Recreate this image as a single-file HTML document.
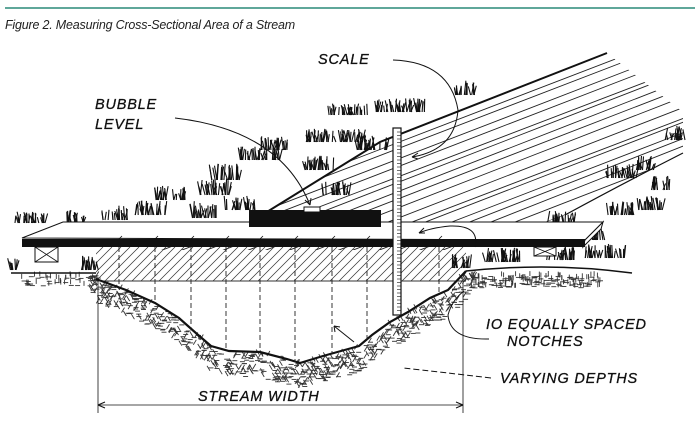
<!DOCTYPE html>
<html><head><meta charset="utf-8"><style>
html,body{margin:0;padding:0;background:#fff;}
svg{display:block}
.t{font-family:"Liberation Sans",sans-serif;font-style:italic;font-size:14.5px;fill:#111;letter-spacing:0.8px;stroke:#111;stroke-width:0.3}
</style></head><body>
<svg id="s" width="700" height="426" viewBox="0 0 700 426" xmlns="http://www.w3.org/2000/svg">
<defs>
<clipPath id="slope"><polygon points="215,244 380,142 607,53 683,112 683,153 565,215 470,250 96,250"/></clipPath>
<clipPath id="water"><rect x="96" y="247" width="370" height="34"/></clipPath>
</defs>
<line x1="5" y1="8" x2="695" y2="8" stroke="#2a8a78" stroke-width="1.5"/>
<text x="5" y="29" style="font-family:'Liberation Sans',sans-serif;font-style:italic;font-size:12.5px;fill:#222;letter-spacing:-0.2px">Figure 2. Measuring Cross-Sectional Area of a Stream</text>
<g id="hatch" stroke="#222" stroke-width="0.9" fill="none" clip-path="url(#slope)"></g>
<path d="M215,244 L380,142 Q500,95 607,53" stroke="#111" stroke-width="2" fill="none"/>
<path d="M565,215 Q620,185 683,153" stroke="#111" stroke-width="1.2" fill="none"/>
<g id="whatch" stroke="#333" stroke-width="0.7" clip-path="url(#water)"></g>
<line x1="96" y1="281" x2="466" y2="281" stroke="#333" stroke-width="1"/>
<g id="soil" stroke="#333" stroke-width="0.9"></g>
<g id="grass" stroke="#111" stroke-width="1.1" fill="none"></g>
<path d="M11,273 L96,273 M466,271 Q550,262 632,273" stroke="#111" stroke-width="1.5" fill="none"/>
<path d="M96,279 L126,290 L155,303 L179,318 L197,334 L211,346 L229,351 L260,352 L287,359 L300,363 L323,356 L341,351 L359,346 L372,335 L390,322 L408,312 L430,298 L448,290 L466,271" stroke="#111" stroke-width="2.2" fill="none"/>
<g id="dash" stroke="#222" stroke-width="0.9" stroke-dasharray="5,3"></g>
<polygon points="22,238 63,222 603,222 585,240" fill="#fff" stroke="#111" stroke-width="1"/>
<polygon points="603,222 601,229 583,247 585,240" fill="#fff" stroke="#111" stroke-width="1"/>
<rect x="22" y="239" width="563" height="8" fill="#111"/>
<rect x="35" y="247" width="23" height="15" fill="#fff" stroke="#111"/>
<path d="M35,247 L58,262 M58,247 L35,262" stroke="#111" stroke-width="0.8"/>
<rect x="534" y="247" width="22" height="9" fill="#fff" stroke="#111"/>
<path d="M534,247 L556,256 M556,247 L534,256" stroke="#111" stroke-width="0.8"/>
<g id="notch" stroke="#111" stroke-width="0.8"></g>
<rect x="249" y="210" width="132" height="17" fill="#111"/>
<rect x="304" y="207" width="16" height="5" fill="#fff" stroke="#111" stroke-width="1"/>
<rect x="393" y="128" width="8" height="187" fill="#fff" stroke="#111" stroke-width="1.2"/>
<g id="ticks" stroke="#111" stroke-width="0.6"></g>
<g class="t">
<text x="318" y="64">SCALE</text>
<text x="95" y="109">BUBBLE</text>
<text x="95" y="129">LEVEL</text>
<text x="486" y="329">IO EQUALLY  SPACED</text>
<text x="507" y="346">NOTCHES</text>
<text x="500" y="383">VARYING  DEPTHS</text>
<text x="198" y="401">STREAM WIDTH</text>
</g>
<g stroke="#111" stroke-width="1" fill="none">
<path d="M393,60 Q450,62 458,110 Q455,150 412,157"/>
<path d="M412,157 l6,-4 M412,157 l6,2"/>
<path d="M175,118 Q280,130 310,205"/>
<path d="M310,205 l-5,-5 M310,205 l1,-7"/>
<path d="M475,247 Q480,225 450,226 Q430,228 419,233"/>
<path d="M419,233 l5,-5 M419,233 l6,0"/>
<path d="M489,339 Q450,340 448,315 Q452,300 464,291"/>
<path d="M491,378 Q440,372 403,368" stroke-dasharray="6,3"/>
<path d="M354,342 L334,326" />
<path d="M334,326 l6,1 M334,326 l1,6"/>
<line x1="98" y1="281" x2="98" y2="413" stroke-width="0.8"/>
<line x1="463" y1="281" x2="463" y2="413" stroke-width="0.8"/>
<line x1="98" y1="405" x2="463" y2="405" stroke-width="0.8"/>
<path d="M98,405 l7,-3 M98,405 l7,3 M463,405 l-7,-3 M463,405 l-7,3"/>
</g>
</svg>
<script>
var NS="http://www.w3.org/2000/svg";
var seed=7;function r(){seed=(seed*16807)%2147483647;return seed/2147483647;}
function ln(g,x1,y1,x2,y2){var l=document.createElementNS(NS,"line");l.setAttribute("x1",x1.toFixed(1));l.setAttribute("y1",y1.toFixed(1));l.setAttribute("x2",x2.toFixed(1));l.setAttribute("y2",y2.toFixed(1));document.getElementById(g).appendChild(l);}
for(var i=0;i<34;i++){var y0=150+i*8.5;ln("hatch",150,y0+r()*3,700,y0-215+r()*8);}
for(var x=60;x<480;x+=9){ln("whatch",x,281,x+34,247);}
var xs=[119,155,191,226,260,295,332,367,439];
var bed=[[96,279],[126,290],[155,303],[179,318],[197,334],[211,346],[229,351],[260,352],[287,359],[300,363],[323,356],[341,351],[359,346],[372,335],[390,322],[408,312],[430,298],[448,290],[466,271]];
function by(x){for(var k=0;k<bed.length-1;k++){if(x>=bed[k][0]&&x<=bed[k+1][0]){var t=(x-bed[k][0])/(bed[k+1][0]-bed[k][0]);return bed[k][1]+t*(bed[k+1][1]-bed[k][1]);}}return 280;}
xs.forEach(function(x){ln("dash",x,247,x,by(x));ln("notch",x,239,x+3,236);});
for(var y=132;y<312;y+=3.5){ln("ticks",397,y,401,y);}
for(var i=0;i<800;i++){var x=90+r()*385;var b=by(Math.max(96,Math.min(466,x)));var y=b+2+r()*24;if(x<96||x>466)y=275+r()*20;
 if(r()<0.5){ln("soil",x,y,x+5,y);}else{var d=r()<0.5?3:-3;ln("soil",x,y,x+d,y-5);}}
for(var i=0;i<200;i++){var x=470+r()*130;var y=276+r()*12;if(r()<0.5)ln("soil",x,y,x+5,y);else ln("soil",x,y,x,y-5);}
for(var i=0;i<60;i++){var x=20+r()*75;var y=276+r()*10;if(r()<0.5)ln("soil",x,y,x+5,y);else ln("soil",x,y,x,y-5);}
function clump(cx,cy,w,h,n){for(var k=0;k<n;k++){var x=cx+(r()-0.5)*w;var hh=h*(0.5+r()*0.7);ln("grass",x,cy,x+(r()-0.5)*6,cy-hh);}}
var cl=[[30,223,30,10],[75,222,20,10],[115,220,25,12],[150,215,30,12],[170,200,30,12],[205,218,25,14],[215,195,30,14],[225,180,30,14],[260,160,40,12],[275,150,30,12],[335,142,60,11],[372,150,30,12],[320,170,30,12],[335,195,30,12],[348,115,40,10],[400,112,50,12],[465,95,20,12],[12,270,10,10],[90,270,20,12],[460,268,20,12],[500,262,40,12],[560,260,30,12],[590,240,30,12],[605,258,40,12],[622,178,30,12],[645,170,20,12],[675,140,20,12],[620,215,30,12],[650,210,30,12],[660,190,20,12],[560,225,30,12],[240,210,30,12],[190,235,20,10]];
cl.forEach(function(c){clump(c[0],c[1],c[2],c[3],Math.round(c[2]/1.2));});
</script>
</body></html>
